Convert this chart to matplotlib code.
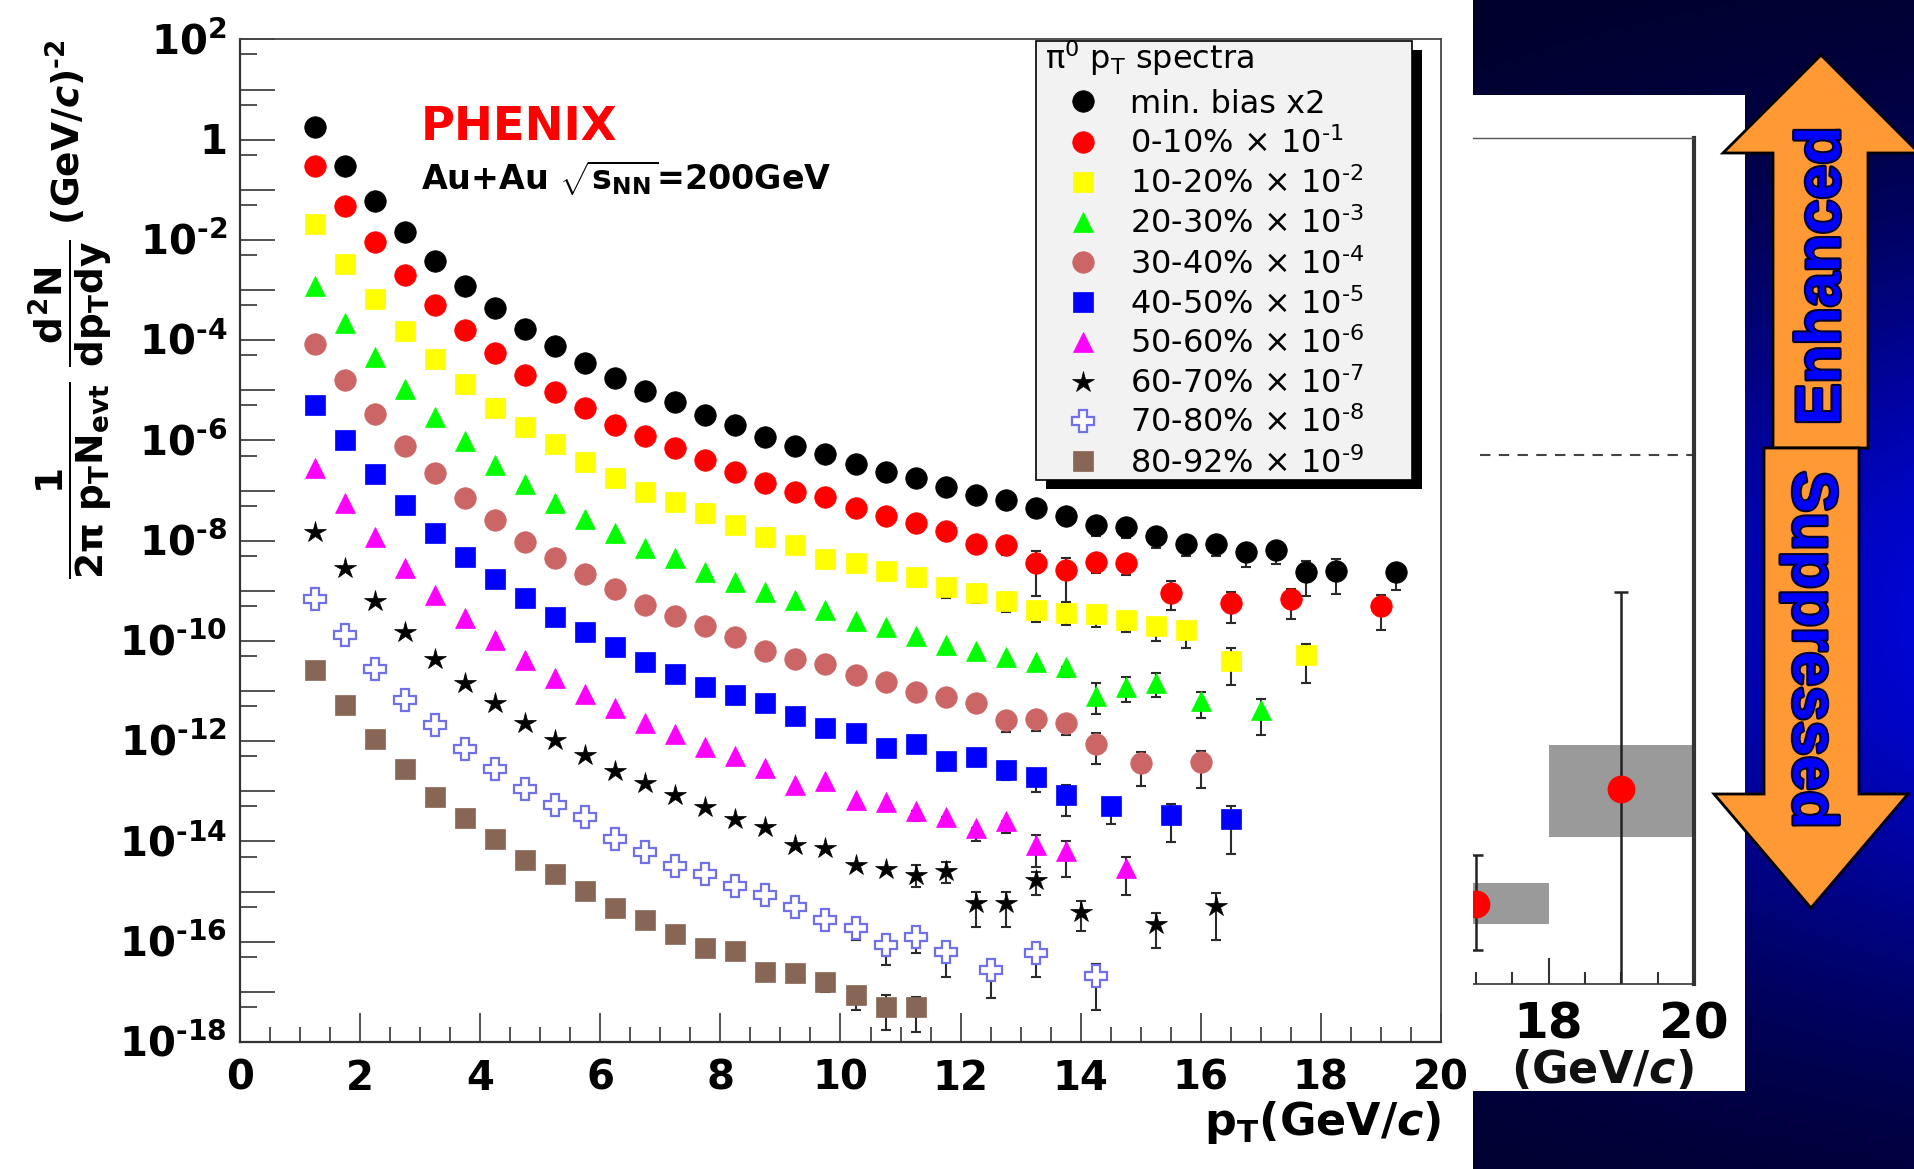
import numpy as np
import matplotlib
matplotlib.use("Agg")
import matplotlib.pyplot as plt
from matplotlib.patches import Rectangle, Polygon
from matplotlib.ticker import MultipleLocator, LogLocator, NullFormatter
import matplotlib.transforms as mtransforms
import matplotlib.patheffects as pe

plt.rcParams["font.family"] = ["DejaVu Sans"]
plt.rcParams["mathtext.fontset"] = "custom"
plt.rcParams["mathtext.rm"] = "DejaVu Sans"
plt.rcParams["mathtext.it"] = "DejaVu Sans:italic:bold"
plt.rcParams["mathtext.bf"] = "DejaVu Sans:bold"
plt.rcParams["mathtext.default"] = "regular"

HY = "\u2010"  # short hyphen used in the exponents

# ---------------- data (log10 of plotted yield) -------------
mb_pt = [1.25, 1.75, 2.25, 2.75, 3.25, 3.75, 4.25, 4.75, 5.25, 5.75, 6.25, 6.75,
         7.25, 7.75, 8.25, 8.75, 9.25, 9.75, 10.25, 10.75, 11.25, 11.75, 12.25, 12.75,
         13.25, 13.75, 14.25, 14.75, 15.25, 15.75, 16.25, 16.75, 17.25, 17.75, 18.25, 19.25]
mb_log10 = [0.25, -0.52, -1.22, -1.85, -2.43, -2.92, -3.36, -3.77, -4.11, -4.46, -4.76, -5.02,
            -5.24, -5.49, -5.70, -5.94, -6.11, -6.27, -6.47, -6.63, -6.74, -6.93, -7.09, -7.19,
            -7.35, -7.51, -7.69, -7.73, -7.90, -8.06, -8.06, -8.23, -8.19, -8.63, -8.60, -8.63]
mb_bar_lo = [-7.90, -7.94, -8.15, -8.30, -8.30, -8.52, -8.46, -9.10, -9.06, -8.98]
mb_bar_hi = [None, None, None, None, None, None, None, -8.40, -8.36, None]

c0_pt = [1.25, 1.75, 2.25, 2.75, 3.25, 3.75, 4.25, 4.75, 5.25, 5.75, 6.25, 6.75,
         7.25, 7.75, 8.25, 8.75, 9.25, 9.75, 10.25, 10.75, 11.25, 11.75, 12.25, 12.75,
         13.25, 13.75, 14.25, 14.75, 15.5, 16.5, 17.5, 19.0]
c0_log10 = [-0.52, -1.33, -2.05, -2.70, -3.30, -3.80, -4.26, -4.69, -5.03, -5.36, -5.69, -5.92,
            -6.16, -6.40, -6.62, -6.85, -7.03, -7.12, -7.34, -7.50, -7.65, -7.80, -8.07, -8.09,
            -8.44, -8.59, -8.43, -8.44, -9.04, -9.24, -9.17, -9.31]
c0_bar_lo = [-8.25, -8.29, -9.10, -9.22, -8.64, -8.69, -9.39, -9.64, -9.56, -9.79]
c0_bar_hi = [None, None, -8.20, -8.35, None, None, -8.81, -9.02, -8.96, -9.08]

c1_pt = [1.25, 1.75, 2.25, 2.75, 3.25, 3.75, 4.25, 4.75, 5.25, 5.75, 6.25, 6.75,
         7.25, 7.75, 8.25, 8.75, 9.25, 9.75, 10.25, 10.75, 11.25, 11.75, 12.25, 12.75,
         13.25, 13.75, 14.25, 14.75, 15.25, 15.75, 16.5, 17.75]
c1_log10 = [-1.69, -2.49, -3.18, -3.81, -4.38, -4.88, -5.36, -5.74, -6.08, -6.44, -6.75, -7.02,
            -7.23, -7.44, -7.68, -7.92, -8.09, -8.37, -8.45, -8.60, -8.72, -8.93, -9.04, -9.20,
            -9.38, -9.45, -9.47, -9.58, -9.71, -9.79, -10.39, -10.29]
c1_bar_lo = [-9.15, -9.25, -9.42, -9.62, -9.68, -9.72, -9.83, -10.01, -10.14, -10.88, -10.83]
c1_bar_hi = [None, None, None, None, None, None, None, None, None, -10.15, -10.07]

c2_pt = [1.25, 1.75, 2.25, 2.75, 3.25, 3.75, 4.25, 4.75, 5.25, 5.75, 6.25, 6.75,
         7.25, 7.75, 8.25, 8.75, 9.25, 9.75, 10.25, 10.75, 11.25, 11.75, 12.25, 12.75,
         13.25, 13.75, 14.25, 14.75, 15.25, 16.0, 17.0]
c2_log10 = [-2.92, -3.65, -4.33, -4.97, -5.54, -6.01, -6.49, -6.87, -7.25, -7.57, -7.84, -8.15,
            -8.35, -8.62, -8.82, -9.02, -9.18, -9.38, -9.60, -9.72, -9.91, -10.08, -10.21, -10.31,
            -10.41, -10.51, -11.09, -10.91, -10.83, -11.20, -11.38]
c2_bar_lo = [-10.72, -11.45, -11.22, -11.12, -11.53, -11.88]
c2_bar_hi = [None, -10.84, -10.72, -10.63, -11.01, -11.15]

c3_pt = [1.25, 1.75, 2.25, 2.75, 3.25, 3.75, 4.25, 4.75, 5.25, 5.75, 6.25, 6.75,
         7.25, 7.75, 8.25, 8.75, 9.25, 9.75, 10.25, 10.75, 11.25, 11.75, 12.25, 12.75,
         13.25, 13.75, 14.25, 15.0, 16.0]
c3_log10 = [-4.07, -4.79, -5.47, -6.11, -6.65, -7.15, -7.58, -8.02, -8.35, -8.67, -8.97, -9.28,
            -9.50, -9.70, -9.93, -10.21, -10.35, -10.45, -10.68, -10.81, -11.01, -11.11, -11.24, -11.58,
            -11.56, -11.63, -12.06, -12.44, -12.42]
c3_bar_lo = [-11.81, -11.79, -11.88, -12.46, -12.89, -12.93]
c3_bar_hi = [None, None, None, -11.84, -12.21, -12.19]

c4_pt = [1.25, 1.75, 2.25, 2.75, 3.25, 3.75, 4.25, 4.75, 5.25, 5.75, 6.25, 6.75,
         7.25, 7.75, 8.25, 8.75, 9.25, 9.75, 10.25, 10.75, 11.25, 11.75, 12.25, 12.75,
         13.25, 13.75, 14.5, 15.5, 16.5]
c4_log10 = [-5.29, -5.99, -6.67, -7.29, -7.85, -8.32, -8.77, -9.15, -9.52, -9.82, -10.13, -10.41,
            -10.65, -10.91, -11.08, -11.24, -11.50, -11.74, -11.84, -12.14, -12.06, -12.39, -12.32, -12.57,
            -12.72, -13.08, -13.29, -13.48, -13.55]
c4_bar_lo = [-12.77, -13.01, -13.50, -13.66, -14.01, -14.24]
c4_bar_hi = [None, None, -12.87, None, -13.25, -13.29]

c5_pt = [1.25, 1.75, 2.25, 2.75, 3.25, 3.75, 4.25, 4.75, 5.25, 5.75, 6.25, 6.75,
         7.25, 7.75, 8.25, 8.75, 9.25, 9.75, 10.25, 10.75, 11.25, 11.75, 12.25, 12.75,
         13.25, 13.75, 14.75]
c5_log10 = [-6.55, -7.24, -7.92, -8.55, -9.08, -9.55, -9.98, -10.37, -10.73, -11.06, -11.34, -11.63,
            -11.86, -12.12, -12.30, -12.53, -12.87, -12.79, -13.17, -13.22, -13.39, -13.51, -13.74, -13.60,
            -14.07, -14.19, -14.53]
c5_bar_lo = [-13.60, -13.70, -14.00, -13.84, -14.50, -14.70, -15.07]
c5_bar_hi = [None, None, None, None, -13.87, -13.99, -14.31]

c6_pt = [1.25, 1.75, 2.25, 2.75, 3.25, 3.75, 4.25, 4.75, 5.25, 5.75, 6.25, 6.75,
         7.25, 7.75, 8.25, 8.75, 9.25, 9.75, 10.25, 10.75, 11.25, 11.75, 12.25, 12.75,
         13.25, 14.0, 15.25, 16.25]
c6_log10 = [-7.82, -8.55, -9.20, -9.82, -10.35, -10.83, -11.24, -11.63, -11.98, -12.28, -12.59, -12.84,
            -13.07, -13.31, -13.56, -13.72, -14.07, -14.14, -14.47, -14.54, -14.66, -14.59, -15.22, -15.22,
            -14.77, -15.40, -15.65, -15.28]
c6_bar_lo = [-14.90, -14.82, -15.70, -15.70, -15.07, -15.79, -16.13, -15.96]
c6_bar_hi = [-14.47, -14.40, -15.00, -15.00, -14.60, -15.18, -15.43, -15.03]

c7_pt = [1.25, 1.75, 2.25, 2.75, 3.25, 3.75, 4.25, 4.75, 5.25, 5.75, 6.25, 6.75,
         7.25, 7.75, 8.25, 8.75, 9.25, 9.75, 10.25, 10.75, 11.25, 11.75, 12.5, 13.25, 14.25]
c7_log10 = [-9.17, -9.89, -10.55, -11.18, -11.68, -12.15, -12.55, -12.96, -13.27, -13.52, -13.96, -14.20,
            -14.49, -14.64, -14.89, -15.07, -15.31, -15.57, -15.73, -16.06, -15.91, -16.21, -16.56, -16.23,
            -16.69]
c7_bar_lo = [-15.97, -16.46, -16.23, -16.70, -17.13, -16.70, -17.37]
c7_bar_hi = [None, None, None, None, -16.36, -16.05, -16.44]

c8_pt = [1.25, 1.75, 2.25, 2.75, 3.25, 3.75, 4.25, 4.75, 5.25, 5.75, 6.25, 6.75,
         7.25, 7.75, 8.25, 8.75, 9.25, 9.75, 10.25, 10.75, 11.25]
c8_log10 = [-10.57, -11.28, -11.95, -12.55, -13.11, -13.53, -13.96, -14.36, -14.64, -14.98, -15.33, -15.57,
            -15.85, -16.13, -16.18, -16.60, -16.63, -16.80, -17.06, -17.30, -17.31]
c8_bar_lo = [-17.00, -17.36, -17.76, -17.81]
c8_bar_hi = [None, None, -17.06, -17.10]

legend_title = r"$\pi^{0}$ p$_{T}$ spectra"
legend_labels = ["min. bias x2",
                 "0-10% $\\times$ 10$^{" + HY + "1}$", "10-20% $\\times$ 10$^{" + HY + "2}$",
                 "20-30% $\\times$ 10$^{" + HY + "3}$", "30-40% $\\times$ 10$^{" + HY + "4}$",
                 "40-50% $\\times$ 10$^{" + HY + "5}$", "50-60% $\\times$ 10$^{" + HY + "6}$",
                 "60-70% $\\times$ 10$^{" + HY + "7}$", "70-80% $\\times$ 10$^{" + HY + "8}$",
                 "80-92% $\\times$ 10$^{" + HY + "9}$"]

x_ticks = [0, 2, 4, 6, 8, 10, 12, 14, 16, 18, 20]
x_ticklabels = ["0", "2", "4", "6", "8", "10", "12", "14", "16", "18", "20"]
y_tick_exps = [2, 0, -2, -4, -6, -8, -10, -12, -14, -16, -18]
y_ticklabels = ["$10^{2}$", "1", "$10^{" + HY + "2}$", "$10^{" + HY + "4}$",
                "$10^{" + HY + "6}$", "$10^{" + HY + "8}$", "$10^{" + HY + "10}$",
                "$10^{" + HY + "12}$", "$10^{" + HY + "14}$", "$10^{" + HY + "16}$",
                "$10^{" + HY + "18}$"]

# second (partially hidden) panel: nuclear modification factor
raa_pt = [17.0, 19.0]
raa_val = [0.151, 0.369]
raa_stat_lo = [0.064, -0.003]
raa_stat_hi = [0.244, 0.741]
raa_sys_lo = [0.113, 0.278]
raa_sys_hi = [0.191, 0.452]
raa_bin_lo = [16.0, 18.0]
raa_bin_hi = [18.0, 20.0]
raa_ticks = [16, 18, 20]
raa_ticklabels = ["16", "18", "20"]

# ---------------- figure -------------
W, H = 1915, 1169
fig = plt.figure(figsize=(W / 100, H / 100), dpi=100)
fig.patch.set_facecolor("white")


def box(x0, y0, x1, y1):
    return [x0 / W, 1 - y1 / H, (x1 - x0) / W, (y1 - y0) / H]


# background: blue slide, white panel, arrows
bg = fig.add_axes([0, 0, 1, 1], zorder=-5)
gx, gy = np.meshgrid(np.linspace(0, 1, 120), np.linspace(0, 1, 300))
glow = np.exp(-((gy * H - 620) / 390.0) ** 2) * (0.45 + 0.55 * gx)
img = np.zeros(gx.shape + (3,))
img[..., 1] = 0.02 * glow
img[..., 2] = 0.15 + 0.68 * glow
bg.imshow(img, extent=(1473, W, H, 0), aspect="auto", interpolation="bilinear", zorder=0)
bg.set_xlim(0, W)
bg.set_ylim(H, 0)
bg.axis("off")
bg.add_patch(Rectangle((1473, 95), 272, 996, facecolor="white", edgecolor="none", zorder=1))
bg.add_patch(Polygon([(1773, 448), (1773, 153), (1723, 153), (1821, 55), (1919, 153),
                      (1868, 153), (1868, 448)], closed=True, facecolor="#ff9933",
                     edgecolor="black", lw=2, zorder=2))
bg.add_patch(Polygon([(1764, 448), (1859, 448), (1859, 794), (1908, 794), (1811, 908),
                      (1714, 794), (1764, 794)], closed=True, facecolor="#ff9933",
                     edgecolor="black", lw=2, zorder=2))
outline = [pe.withStroke(linewidth=3, foreground="#000030")]
bg.text(1823, 276, "Enhanced", rotation=90, ha="center", va="center", fontsize=45,
        fontweight="bold", family=["Liberation Sans"], color="#0000ff",
        path_effects=outline, zorder=3)
bg.text(1810, 650, "Suppressed", rotation=-90, ha="center", va="center", fontsize=45,
        fontweight="bold", family=["Liberation Sans"], color="#0000ff",
        path_effects=outline, zorder=3)

# second panel (mostly covered)
ax2 = fig.add_axes(box(1330.25, 138, 1694, 984), zorder=0)
ax2.set_xlim(15, 20)
ax2.set_ylim(0, 1.6)
ax2.spines["left"].set_visible(False)
ax2.spines["top"].set_linewidth(1.0)
ax2.spines["top"].set_color("#555555")
ax2.spines["right"].set_linewidth(3.0)
ax2.spines["right"].set_color("#333333")
ax2.spines["bottom"].set_linewidth(1.2)
ax2.spines["bottom"].set_color("#333333")
ax2.set_yticks([])
ax2.set_xticks(raa_ticks, labels=raa_ticklabels, fontsize=36, fontweight="bold")
ax2.xaxis.set_minor_locator(MultipleLocator(0.5))
ax2.tick_params(axis="x", which="major", direction="in", length=19, width=1.5,
                color="#333333", pad=12)
ax2.tick_params(axis="x", which="minor", direction="in", length=9, width=1.5, color="#333333")
ax2.axhline(1.0, color="#444444", lw=1.5, ls=(0, (5, 4)), zorder=1)
raa_h = [h - l for h, l in zip(raa_sys_hi, raa_sys_lo)]
raa_w = [h - l for h, l in zip(raa_bin_hi, raa_bin_lo)]
ax2.bar(raa_bin_lo, raa_h, bottom=raa_sys_lo, width=raa_w, align="edge",
        color="#9a9a9a", edgecolor="none", zorder=1)
rv = np.array(raa_val)
ax2.errorbar(raa_pt, rv, yerr=[rv - np.array(raa_stat_lo), np.array(raa_stat_hi) - rv],
             fmt="none", ecolor="#222222", elinewidth=1.8, capsize=5, capthick=1.8, zorder=2)
ax2.plot(raa_pt, raa_val, ls="none", marker="o", ms=19, color="#ff0000", zorder=3)
fig.text(1694 / W, 1 - 1083 / H, r"(GeV/$\mathit{c}$)", ha="right", va="baseline",
         fontsize=32, fontweight="bold", color="#111111", zorder=0.5)

# white cover for the left slide part
fig.add_artist(Rectangle((0, 0), 1473 / W, 1, transform=fig.transFigure,
                         facecolor="white", edgecolor="none", zorder=1))

# ---------------- main spectra panel -------------
ax = fig.add_axes(box(240, 39.4, 1441, 1042), zorder=2)
ax.set_facecolor("white")
ax.set_xlim(0, 20)
ax.set_yscale("log")
ax.set_ylim(1e-18, 1e2)

styles = [
    dict(marker="o", ms=15.5, mfc="black", mec="black", mew=0.5),
    dict(marker="o", ms=15.5, mfc="#ff0000", mec="#ff0000", mew=0.5),
    dict(marker="s", ms=15, mfc="#ffff00", mec="#ffff00", mew=0.5),
    dict(marker="^", ms=15, mfc="#00ff00", mec="#00ff00", mew=0.5),
    dict(marker="o", ms=15.5, mfc="#cc6666", mec="#cc6666", mew=0.5),
    dict(marker="s", ms=15, mfc="#0000ff", mec="#0000ff", mew=0.5),
    dict(marker="^", ms=15, mfc="#ff00ff", mec="#ff00ff", mew=0.5),
    dict(marker="*", ms=16, mfc="black", mec="black", mew=0.5),
    dict(marker="P", ms=16, mfc="white", mec="#7070e8", mew=1.6),
    dict(marker="s", ms=15, mfc="#886655", mec="#886655", mew=0.5),
]
series = [
    (mb_pt, mb_log10, mb_bar_lo, mb_bar_hi),
    (c0_pt, c0_log10, c0_bar_lo, c0_bar_hi),
    (c1_pt, c1_log10, c1_bar_lo, c1_bar_hi),
    (c2_pt, c2_log10, c2_bar_lo, c2_bar_hi),
    (c3_pt, c3_log10, c3_bar_lo, c3_bar_hi),
    (c4_pt, c4_log10, c4_bar_lo, c4_bar_hi),
    (c5_pt, c5_log10, c5_bar_lo, c5_bar_hi),
    (c6_pt, c6_log10, c6_bar_lo, c6_bar_hi),
    (c7_pt, c7_log10, c7_bar_lo, c7_bar_hi),
    (c8_pt, c8_log10, c8_bar_lo, c8_bar_hi),
]
for (pt, lg, blo, bhi), st in zip(series, styles):
    x = np.asarray(pt, float)
    y = 10.0 ** np.asarray(lg, float)
    n = len(blo)
    if n:
        xb, yb = x[-n:], y[-n:]
        lo = np.array([10.0 ** v if v is not None else yy for v, yy in zip(blo, yb)])
        hi = np.array([10.0 ** v if v is not None else yy for v, yy in zip(bhi, yb)])
        ax.errorbar(xb, yb, yerr=[yb - lo, hi - yb], fmt="none", ecolor="#2a2a2a",
                    elinewidth=1.5, capsize=3.5, capthick=1.5, zorder=2)
    ax.plot(x, y, ls="none", zorder=3, **st)

for s in ["left", "bottom"]:
    ax.spines[s].set_linewidth(1.6)
    ax.spines[s].set_color("#333333")
for s in ["top", "right"]:
    ax.spines[s].set_linewidth(1.3)
    ax.spines[s].set_color("#444444")

ax.set_xticks(x_ticks, labels=x_ticklabels, fontsize=29, fontweight="bold")
ax.xaxis.set_minor_locator(MultipleLocator(0.5))
ax.tick_params(axis="x", which="major", direction="in", length=21, width=1.2,
               color="#333333", top=False, pad=12)
ax.tick_params(axis="x", which="minor", direction="in", length=11, width=1.2,
               color="#333333", top=False)
ax.yaxis.set_major_locator(LogLocator(base=10, numticks=40))
ax.yaxis.set_minor_locator(LogLocator(base=10, subs=(5.0,), numticks=40))
ax.yaxis.set_major_formatter(NullFormatter())
ax.yaxis.set_minor_formatter(NullFormatter())
ax.tick_params(axis="y", which="major", direction="in", length=25, width=1.2,
               color="#333333", right=False)
ax.tick_params(axis="y", which="minor", direction="in", length=12.5, width=1.2,
               color="#333333", right=False)

ytrans = ax.get_yaxis_transform() + mtransforms.ScaledTranslation(
    -13 / 100, -10.6 / 72, fig.dpi_scale_trans)
for e, lab in zip(y_tick_exps, y_ticklabels):
    ax.text(0, 10.0 ** e, lab, transform=ytrans, ha="right", va="baseline",
            fontsize=29, fontweight="bold")

# axis titles and annotations
fig.text(1441 / W, 1 - 1135 / H, r"p$_{T}$(GeV/$\mathit{c}$)", ha="right", va="baseline",
         fontsize=32, fontweight="bold", zorder=4)
fig.text(70 / W, 1 - 309 / H,
         r"$\dfrac{1}{2\pi\ p_{T}N_{evt}}\ \dfrac{d^{2}N}{dp_{T}dy}$ (GeV/$\mathit{c}$)$^{"
         + HY + "2}$",
         rotation=90, ha="center", va="center", fontsize=27, fontweight="bold", zorder=4)
fig.text(421 / W, 1 - 140 / H, "PHENIX", color="#ff0000", ha="left", va="baseline",
         fontsize=33.5, fontweight="bold", zorder=4)
fig.text(421 / W, 1 - 189 / H, r"Au+Au $\sqrt{s_{NN}}$=200GeV", ha="left", va="baseline",
         fontsize=24, fontweight="bold", zorder=4)

# legend
lx0, ly0, lx1, ly1 = 1036.5, 41, 1412, 480
lg_ax = fig.add_axes(box(lx0, ly0, lx1, ly1), zorder=3)
lg_ax.set_xlim(lx0, lx1)
lg_ax.set_ylim(ly1, ly0)
lg_ax.axis("off")
lg_ax.add_patch(Rectangle((lx0 + 10, ly0 + 9), lx1 - lx0, ly1 - ly0, facecolor="black",
                          edgecolor="none", clip_on=False, zorder=0))
lg_ax.add_patch(Rectangle((lx0, ly0), lx1 - lx0, ly1 - ly0, facecolor="#f2f2f2",
                          edgecolor="black", lw=1.2, clip_on=False, zorder=1))
lg_ax.text(1045, 69, legend_title, ha="left", va="baseline", fontsize=23, zorder=2)
row_y = [101.4, 141.6, 181.8, 222.0, 262.2, 302.3, 341.8, 381.6, 421.0, 461.3]
for ry, lab, st in zip(row_y, legend_labels, styles):
    lg_ax.plot([1083], [ry], ls="none", clip_on=False, zorder=2, **st)
    lg_ax.text(1130, ry + 11.3, lab, ha="left", va="baseline", fontsize=23, zorder=2)

fig.savefig("out.png", dpi=100, facecolor="white")
